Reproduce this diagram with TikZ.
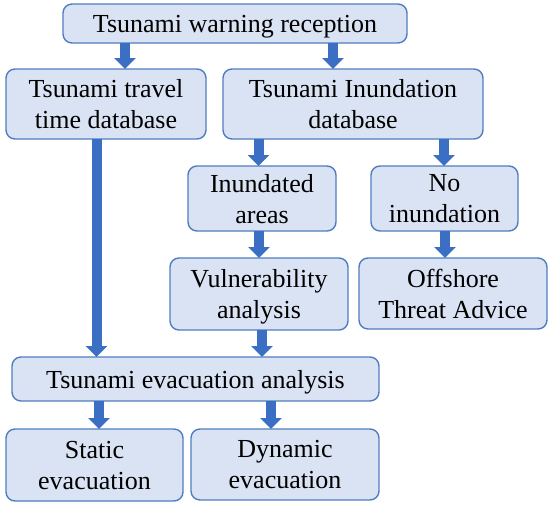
\documentclass[tikz,border=0pt]{standalone}
\usepackage{fontspec}
\setmainfont{Liberation Serif}
\newfontfamily\boxfont{Liberation Serif}
\usetikzlibrary{arrows.meta}
\definecolor{boxfill}{HTML}{DAE3F3}
\definecolor{boxline}{HTML}{4F7DC0}
\definecolor{arrowblue}{HTML}{3A6FC4}
\tikzset{
  flowbox/.style={shape=rectangle, rounded corners=9pt, draw=boxline, fill=boxfill, line width=1.4pt,
    align=center, inner sep=0pt, outer sep=0pt, text depth=0pt, font=\boxfont\fontsize{26}{31}\selectfont},
  fatarrow/.style={draw=arrowblue, line width=10pt, -{Triangle[width=21pt,length=11pt,fill=arrowblue]}}
}
\begin{document}
\begin{tikzpicture}[x=1pt,y=-1pt]
%%%%%%%%%%%%%%%%%%%%%%%%%%%%%%%%%%%%%%%%%%% HELP LINES
%\draw[help lines] (0,0) grid +(549,507);
\useasboundingbox (0,0) rectangle (549,507);

%%%%%%%%%%%%%%%%%%%%%%%%%%%%%%%%%%%%%%%%%%% boxes
\node[flowbox, minimum width=344pt, minimum height=39pt](recep) at (235,23.5) {Tsunami warning reception};
\node[flowbox, minimum width=200pt, minimum height=70pt](travel) at (106,104) {Tsunami travel\\time database};
\node[flowbox, minimum width=260pt, minimum height=70pt](inunddb) at (353,104) {Tsunami Inundation\\database};
\node[flowbox, minimum width=148pt, minimum height=65pt](areas) at (262,198.5) {Inundated\\areas};
\node[flowbox, minimum width=147pt, minimum height=65pt](noinund) at (444.5,198.5) {No\\inundation};
\node[flowbox, minimum width=178pt, minimum height=72pt](vuln) at (259,294) {Vulnerability\\analysis};
\node[flowbox, minimum width=188pt, minimum height=71pt](offshore) at (453,293.5) {Offshore\\Threat Advice};
\node[flowbox, minimum width=367pt, minimum height=44pt](evac) at (195.5,379) {Tsunami evacuation analysis};
\node[flowbox, minimum width=177pt, minimum height=72pt](static) at (94.5,465) {Static\\evacuation};
\node[flowbox, minimum width=188pt, minimum height=71pt](dynamic) at (285,464.5) {Dynamic\\evacuation};

%%%%% arrows
\draw[fatarrow] (recep.south -| 125,0) -- (travel.north -| 125,0);
\draw[fatarrow] (recep.south -| 333,0) -- (inunddb.north -| 333,0);
\draw[fatarrow] (inunddb.south -| 258.5,0) -- (areas.north -| 258.5,0);
\draw[fatarrow] (inunddb.south -| 444,0) -- (noinund.north -| 444,0);
\draw[fatarrow] (areas.south -| 259,0) -- (vuln.north -| 259,0);
\draw[fatarrow] (noinund.south -| 445,0) -- (offshore.north -| 445,0);
\draw[fatarrow] (travel.south -| 96.5,0) -- (evac.north -| 96.5,0);
\draw[fatarrow] (vuln.south -| 262,0) -- (evac.north -| 262,0);
\draw[fatarrow] (evac.south -| 99,0) -- (static.north -| 99,0);
\draw[fatarrow] (evac.south -| 271,0) -- (dynamic.north -| 271,0);
\end{tikzpicture}
\end{document}
